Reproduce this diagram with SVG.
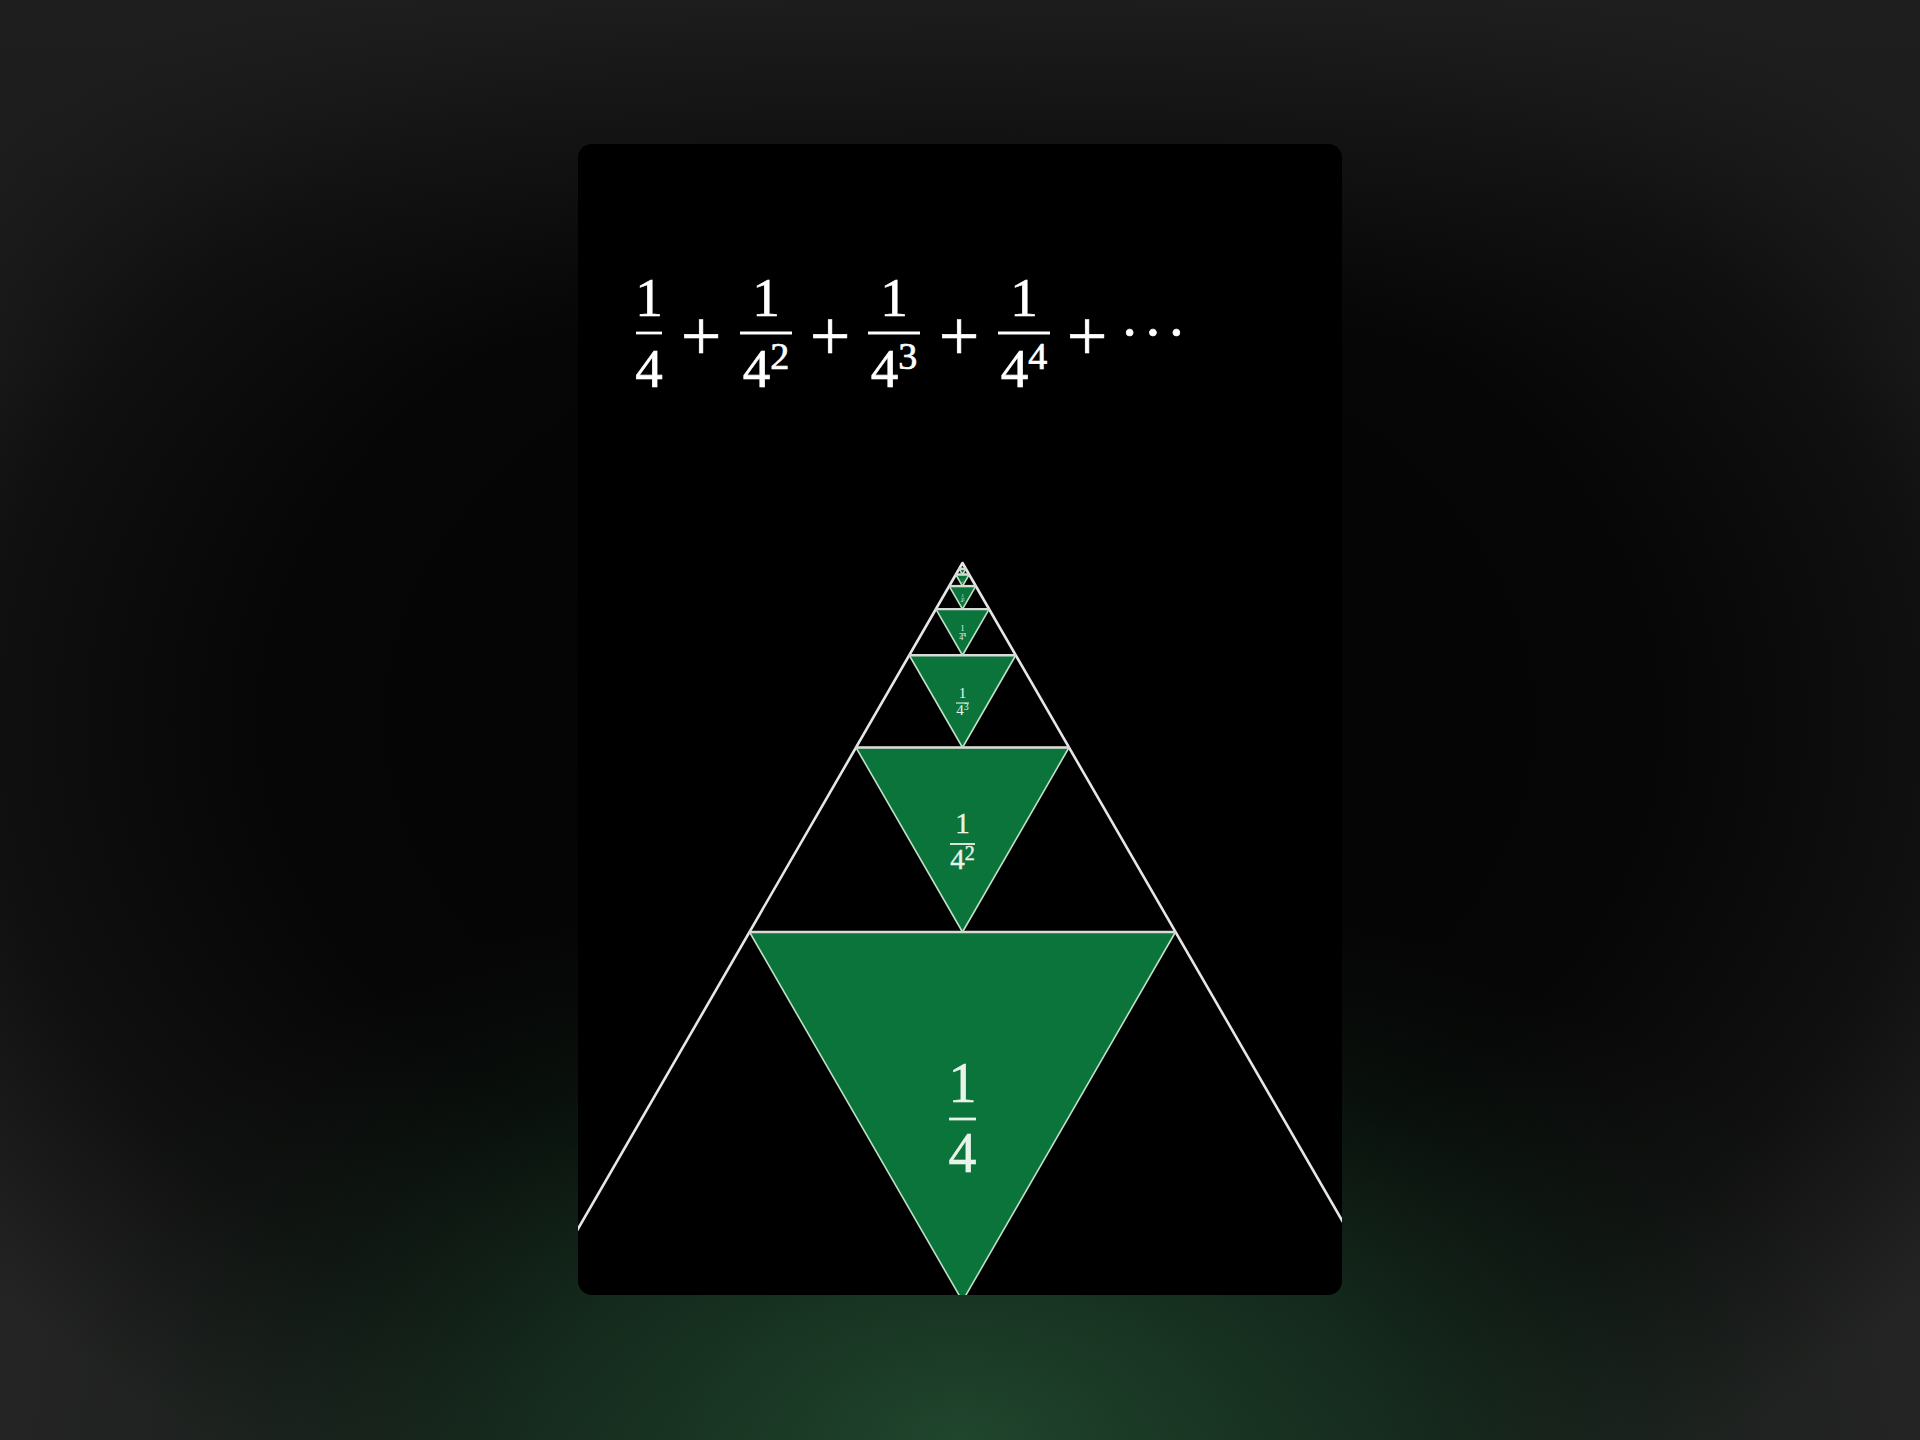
<svg xmlns="http://www.w3.org/2000/svg" width="1920" height="1440" viewBox="0 0 1920 1440">
  <defs>
    <radialGradient id="vig" cx="960" cy="720" r="1250" gradientUnits="userSpaceOnUse" gradientTransform="translate(960 720) scale(1 0.72) translate(-960 -720)">
      <stop offset="0" stop-color="#030303"/>
      <stop offset="0.55" stop-color="#060606"/>
      <stop offset="0.78" stop-color="#101010"/>
      <stop offset="1" stop-color="#242424"/>
    </radialGradient>
    <linearGradient id="topband" x1="0" y1="0" x2="0" y2="1">
      <stop offset="0" stop-color="#1e1e1e" stop-opacity="0.9"/>
      <stop offset="0.12" stop-color="#161616" stop-opacity="0.5"/>
      <stop offset="0.25" stop-color="#0c0c0c" stop-opacity="0"/>
    </linearGradient>
    <radialGradient id="glow" cx="960" cy="1440" r="950" gradientUnits="userSpaceOnUse" gradientTransform="translate(960 1440) scale(1 0.6) translate(-960 -1440)">
      <stop offset="0" stop-color="#21492f" stop-opacity="0.95"/>
      <stop offset="0.45" stop-color="#163321" stop-opacity="0.75"/>
      <stop offset="1" stop-color="#0a150e" stop-opacity="0"/>
    </radialGradient>
    <clipPath id="cardClip">
      <rect x="578" y="144" width="764" height="1151" rx="14"/>
    </clipPath>
    <style>
      .num { font-family: "Liberation Serif", "DejaVu Serif", serif; fill: #ffffff; stroke: #ffffff; stroke-width: 0.7; text-anchor: middle; }
      .plus { font-family: "Liberation Serif", "DejaVu Serif", serif; fill: #ffffff; stroke: #ffffff; stroke-width: 0.6; text-anchor: middle; }
      .bar { stroke: #ffffff; stroke-width: 2.8; }
      .lbl { font-family: "Liberation Serif", "DejaVu Serif", serif; fill: #e8f4ea; text-anchor: middle; }
      .lbar { stroke: #e8f4ea; }
      .green { fill: #0b743a; stroke: #bfe0c6; stroke-width: 1.6; stroke-linejoin: round; }
      .outline { fill: none; stroke: #e6e6e6; stroke-width: 2.6; stroke-linejoin: round; }
      .hline { stroke: #d9d9d9; stroke-width: 2.4; }
    </style>
  </defs>

  <g id="background">
    <rect x="0" y="0" width="1920" height="1440" fill="#242424"/>
    <rect x="0" y="0" width="1920" height="1440" fill="url(#vig)"/>
    <rect x="0" y="0" width="1920" height="1440" fill="url(#topband)"/>
    <rect x="0" y="0" width="1920" height="1440" fill="url(#glow)"/>
  </g>

  <g id="card">
    <rect x="578" y="144" width="764" height="1151" rx="14" fill="#000000"/>
  </g>

  <g id="formula">
    <text class="num" x="649" y="316" font-size="55">1</text>
    <line class="bar" x1="636" y1="333" x2="662" y2="333"/>
    <text class="num" x="649" y="387" font-size="55">4</text>
    <text class="plus" x="701" y="360" font-size="72">+</text>

    <text class="num" x="766" y="316" font-size="55">1</text>
    <line class="bar" x1="740" y1="333" x2="792" y2="333"/>
    <text class="num" x="766" y="387" font-size="55">4<tspan font-size="38" dy="-18">2</tspan></text>
    <text class="plus" x="830" y="360" font-size="72">+</text>

    <text class="num" x="894" y="316" font-size="55">1</text>
    <line class="bar" x1="868" y1="333" x2="920" y2="333"/>
    <text class="num" x="894" y="387" font-size="55">4<tspan font-size="38" dy="-18">3</tspan></text>
    <text class="plus" x="959" y="360" font-size="72">+</text>

    <text class="num" x="1024" y="316" font-size="55">1</text>
    <line class="bar" x1="998" y1="333" x2="1050" y2="333"/>
    <text class="num" x="1024" y="387" font-size="55">4<tspan font-size="38" dy="-18">4</tspan></text>
    <text class="plus" x="1087" y="360" font-size="72">+</text>

    <text class="num" x="1155" y="352" font-size="58" letter-spacing="4">···</text>
  </g>

  <g clip-path="url(#cardClip)">
    <g id="connectors">
      <polyline class="outline" points="536.4,1301 962.5,563 1388.6,1301"/>
    </g>

    <g id="level1">
      <polygon class="green" points="749.5,932 1175.5,932 962.5,1301"/>
      <line class="hline" x1="749.5" y1="932" x2="1175.5" y2="932"/>
      <text class="lbl" x="962.5" y="1102" font-size="56" stroke="#e8f4ea" stroke-width="0.6">1</text>
      <line class="lbar" x1="949" y1="1119" x2="976" y2="1119" stroke-width="2.8"/>
      <text class="lbl" x="962.5" y="1172" font-size="56" stroke="#e8f4ea" stroke-width="0.6">4</text>
    </g>

    <g id="level2">
      <polygon class="green" points="856,747.5 1069,747.5 962.5,932"/>
      <line class="hline" x1="856" y1="747.5" x2="1069" y2="747.5"/>
      <text class="lbl" x="962.5" y="833" font-size="29" stroke="#e8f4ea" stroke-width="0.4">1</text>
      <line class="lbar" x1="950" y1="844" x2="975" y2="844" stroke-width="1.8"/>
      <text class="lbl" x="962.5" y="869" font-size="29" stroke="#e8f4ea" stroke-width="0.4">4<tspan font-size="20" dy="-9">2</tspan></text>
    </g>

    <g id="level3">
      <polygon class="green" points="909.25,655.25 1015.75,655.25 962.5,747.5"/>
      <line class="hline" x1="909.25" y1="655.25" x2="1015.75" y2="655.25"/>
      <text class="lbl" x="962.5" y="698" font-size="15">1</text>
      <line class="lbar" x1="956" y1="703" x2="969" y2="703" stroke-width="1.1"/>
      <text class="lbl" x="962.5" y="715" font-size="15">4<tspan font-size="10" dy="-5">3</tspan></text>
    </g>

    <g id="level4">
      <polygon class="green" points="935.9,609.1 989.1,609.1 962.5,655.25"/>
      <line class="hline" x1="935.9" y1="609.1" x2="989.1" y2="609.1" stroke-width="2"/>
      <text class="lbl" x="962.5" y="631" font-size="8">1</text>
      <line class="lbar" x1="959.3" y1="633.5" x2="965.7" y2="633.5" stroke-width="0.6"/>
      <text class="lbl" x="962.5" y="640" font-size="8">4<tspan font-size="5.5" dy="-3">4</tspan></text>
    </g>

    <g id="level5">
      <polygon class="green" points="949.2,586.1 975.8,586.1 962.5,609.1" stroke-width="1.2"/>
      <line class="hline" x1="949.2" y1="586.1" x2="975.8" y2="586.1" stroke-width="1.6"/>
      <text class="lbl" x="962.5" y="597" font-size="4.5">1</text>
      <line class="lbar" x1="960.9" y1="598.3" x2="964.1" y2="598.3" stroke-width="0.4"/>
      <text class="lbl" x="962.5" y="602" font-size="4.5">4<tspan font-size="3" dy="-1.5">5</tspan></text>
    </g>

    <g id="level6">
      <polygon class="green" points="955.8,574.5 969.2,574.5 962.5,586.1" stroke-width="1"/>
      <line class="hline" x1="955.8" y1="574.5" x2="969.2" y2="574.5" stroke-width="1.4"/>
      <text class="lbl" x="962.5" y="580" font-size="2.5">1</text>
      <text class="lbl" x="962.5" y="583" font-size="2.5">4<tspan font-size="1.8" dy="-0.8">6</tspan></text>
    </g>

    <g id="level7">
      <polygon class="green" points="959.2,568.8 965.8,568.8 962.5,574.5" stroke-width="0.8"/>
      <line class="hline" x1="959.2" y1="568.8" x2="965.8" y2="568.8" stroke-width="1.2"/>
    </g>
  </g>
</svg>
